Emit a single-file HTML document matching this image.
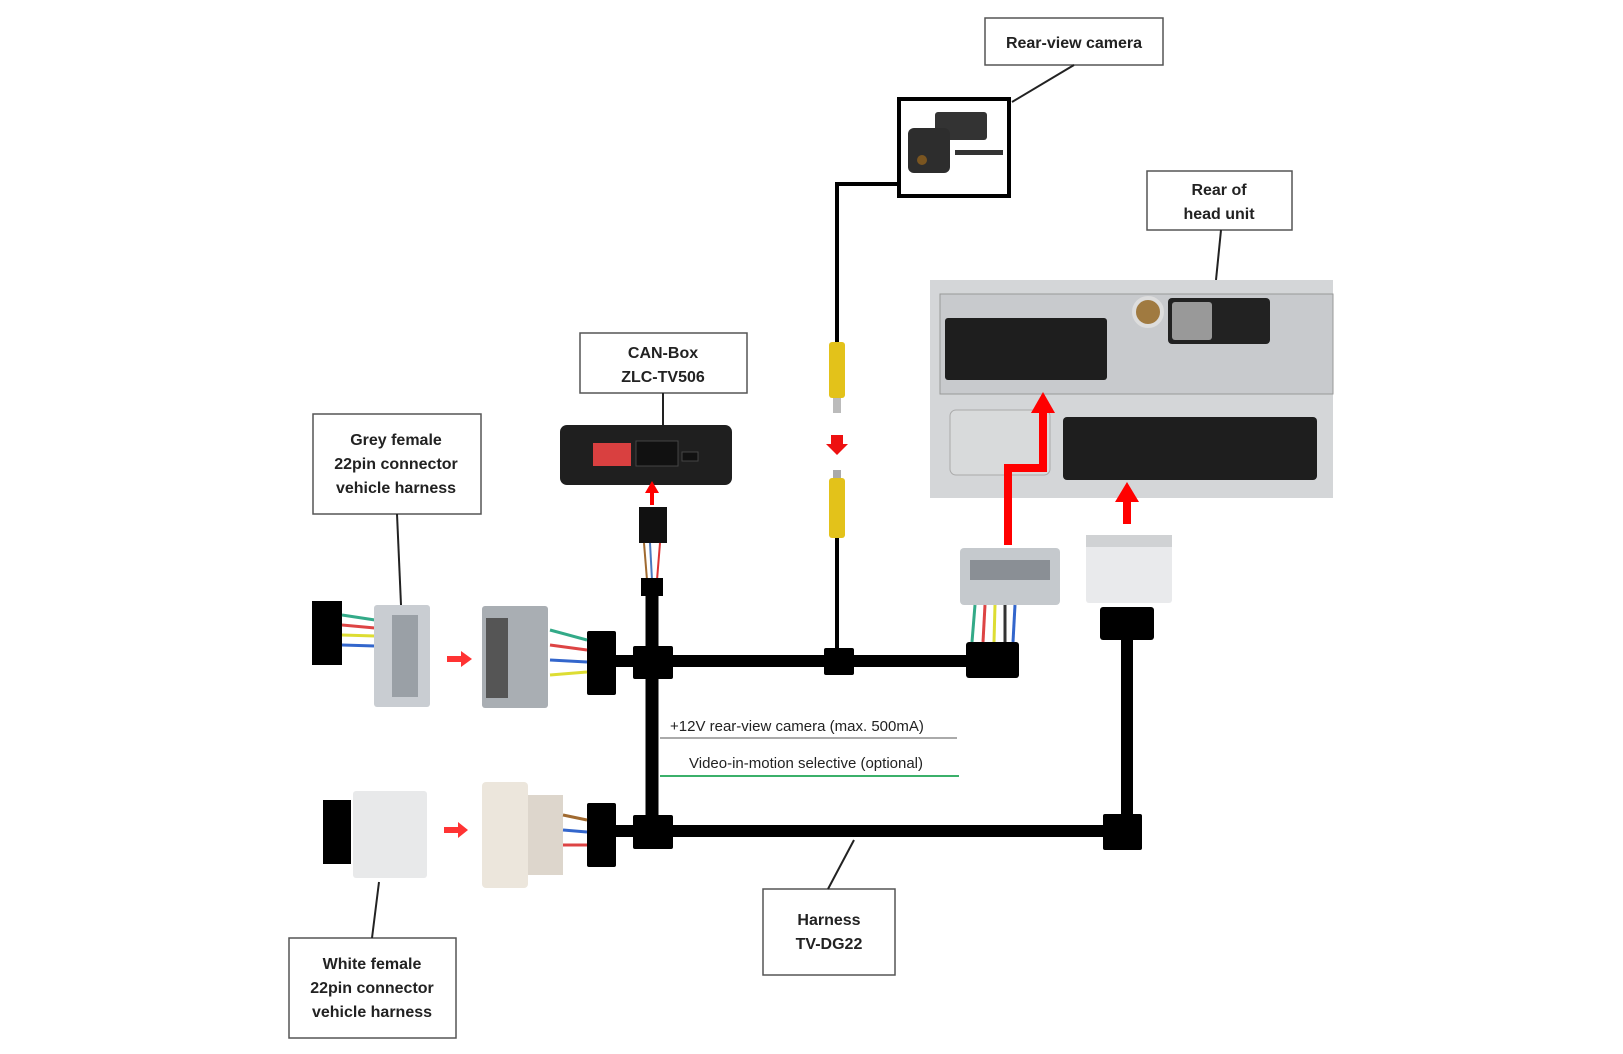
<!DOCTYPE html>
<html><head><meta charset="utf-8"><style>
html,body{margin:0;padding:0;background:#fff;}
svg{display:block;}
text{font-family:"Liberation Sans",sans-serif;}
.lb{font-weight:bold;font-size:16px;fill:#222;text-anchor:middle;}
.box{fill:#fff;stroke:#555;stroke-width:1.5;}
</style></head><body>
<svg width="1623" height="1054" viewBox="0 0 1623 1054" xmlns="http://www.w3.org/2000/svg">
<!-- labels -->
<rect class="box" x="985" y="18" width="178" height="47"/>
<text class="lb" x="1074" y="48">Rear-view camera</text>
<line x1="1074" y1="65" x2="1012" y2="102" stroke="#222" stroke-width="2"/>

<rect class="box" x="1147" y="171" width="145" height="59"/>
<text class="lb" x="1219" y="195">Rear of</text>
<text class="lb" x="1219" y="219">head unit</text>
<line x1="1221" y1="230" x2="1216" y2="280" stroke="#222" stroke-width="2"/>

<rect class="box" x="580" y="333" width="167" height="60"/>
<text class="lb" x="663" y="358">CAN-Box</text>
<text class="lb" x="663" y="382">ZLC-TV506</text>
<line x1="663" y1="393" x2="663" y2="425" stroke="#222" stroke-width="2"/>

<rect class="box" x="313" y="414" width="168" height="100"/>
<text class="lb" x="396" y="445">Grey female</text>
<text class="lb" x="396" y="469">22pin connector</text>
<text class="lb" x="396" y="493">vehicle harness</text>
<line x1="397" y1="514" x2="401" y2="605" stroke="#222" stroke-width="2"/>

<rect class="box" x="289" y="938" width="167" height="100"/>
<text class="lb" x="372" y="969">White female</text>
<text class="lb" x="372" y="993">22pin connector</text>
<text class="lb" x="372" y="1017">vehicle harness</text>
<line x1="372" y1="938" x2="379" y2="882" stroke="#222" stroke-width="2"/>

<rect class="box" x="763" y="889" width="132" height="86"/>
<text class="lb" x="829" y="925">Harness</text>
<text class="lb" x="829" y="949">TV-DG22</text>
<line x1="828" y1="889" x2="854" y2="840" stroke="#222" stroke-width="2"/>

<!-- camera -->
<rect x="899" y="99" width="110" height="97" fill="#fff" stroke="#000" stroke-width="4"/>
<rect x="935" y="112" width="52" height="28" fill="#333" rx="3"/>
<rect x="908" y="128" width="42" height="45" fill="#2d2d2d" rx="6"/>
<circle cx="922" cy="160" r="5" fill="#7a5520"/>
<rect x="955" y="150" width="48" height="5" fill="#333"/>
<polyline points="897,184 837,184 837,345" fill="none" stroke="#000" stroke-width="4"/>
<!-- RCA -->
<rect x="829" y="342" width="16" height="56" fill="#e3c21a" rx="3"/>
<rect x="833" y="398" width="8" height="15" fill="#bbb"/>
<polygon points="831,435 843,435 843,444 848,444 837,455 826,444 831,444" fill="#e11"/>
<rect x="833" y="470" width="8" height="10" fill="#aaa"/>
<rect x="829" y="478" width="16" height="60" fill="#e3c21a" rx="3"/>
<line x1="837" y1="538" x2="837" y2="655" stroke="#000" stroke-width="4"/>

<!-- head unit -->
<rect x="930" y="280" width="403" height="218" fill="#d4d6d8"/>
<rect x="940" y="294" width="393" height="100" fill="#c8cacd" stroke="#999"/>
<rect x="945" y="318" width="162" height="62" fill="#1e1e1e" rx="3"/>
<circle cx="1148" cy="312" r="14" fill="#a07a40" stroke="#ddd" stroke-width="4"/>
<rect x="1168" y="298" width="102" height="46" fill="#222" rx="4"/>
<rect x="1172" y="302" width="40" height="38" fill="#999" rx="3"/>
<rect x="1063" y="417" width="254" height="63" fill="#1e1e1e" rx="4"/>
<rect x="950" y="410" width="100" height="65" fill="#d8dadb" stroke="#aaa" rx="6"/>
<!-- red arrows -->
<polyline points="1008,545 1008,468 1043,468 1043,410" fill="none" stroke="#f00" stroke-width="8"/>
<polygon points="1031,413 1055,413 1043,392" fill="#f00"/>
<line x1="1127" y1="524" x2="1127" y2="498" stroke="#f00" stroke-width="8"/>
<polygon points="1115,502 1139,502 1127,482" fill="#f00"/>

<!-- CAN box -->
<rect x="560" y="425" width="172" height="60" fill="#1f1f1f" rx="7"/>
<rect x="593" y="443" width="38" height="23" fill="#d94040"/>
<rect x="636" y="441" width="42" height="25" fill="#111" stroke="#444"/>
<rect x="682" y="452" width="16" height="9" fill="#111" stroke="#444"/>
<line x1="652" y1="505" x2="652" y2="490" stroke="#f00" stroke-width="4"/>
<polygon points="645,493 659,493 652,481" fill="#f00"/>
<rect x="639" y="507" width="28" height="36" fill="#111"/>
<line x1="644" y1="543" x2="647" y2="580" stroke="#a06a30" stroke-width="2"/>
<line x1="650" y1="543" x2="652" y2="580" stroke="#4a78c0" stroke-width="2"/>
<line x1="660" y1="543" x2="657" y2="580" stroke="#d33" stroke-width="2"/>
<rect x="641" y="578" width="22" height="18" fill="#000"/>

<!-- harness lines -->
<line x1="652" y1="596" x2="652" y2="830" stroke="#000" stroke-width="13"/>
<line x1="605" y1="661" x2="990" y2="661" stroke="#000" stroke-width="12"/>
<line x1="605" y1="831" x2="1127" y2="831" stroke="#000" stroke-width="12"/>
<line x1="1127" y1="630" x2="1127" y2="831" stroke="#000" stroke-width="12"/>
<rect x="633" y="646" width="40" height="33" fill="#000" rx="2"/>
<rect x="824" y="648" width="30" height="27" fill="#000" rx="2"/>
<rect x="633" y="815" width="40" height="34" fill="#000" rx="2"/>
<rect x="1103" y="814" width="39" height="36" fill="#000" rx="2"/>
<rect x="587" y="631" width="29" height="64" fill="#000" rx="2"/>
<rect x="587" y="803" width="29" height="64" fill="#000" rx="2"/>
<rect x="966" y="642" width="53" height="36" fill="#000" rx="3"/>
<rect x="1100" y="607" width="54" height="33" fill="#000" rx="3"/>

<!-- connectors near head unit -->
<rect x="960" y="548" width="100" height="57" fill="#c5c9cd" rx="4"/>
<rect x="970" y="560" width="80" height="20" fill="#8a8f95"/>
<g stroke-width="3"><line x1="975" y1="605" x2="972" y2="642" stroke="#3a8"/><line x1="985" y1="605" x2="983" y2="642" stroke="#d44"/><line x1="995" y1="605" x2="994" y2="642" stroke="#dd3"/><line x1="1005" y1="605" x2="1005" y2="642" stroke="#333"/><line x1="1015" y1="605" x2="1013" y2="642" stroke="#36c"/></g>
<rect x="1086" y="535" width="86" height="68" fill="#e9eaec" rx="3"/>
<rect x="1086" y="535" width="86" height="12" fill="#d0d2d4"/>

<!-- grey female -->
<rect x="312" y="601" width="30" height="64" fill="#000"/>
<g stroke-width="3"><line x1="342" y1="615" x2="375" y2="620" stroke="#3a8"/><line x1="342" y1="625" x2="375" y2="628" stroke="#d44"/><line x1="342" y1="635" x2="375" y2="636" stroke="#dd3"/><line x1="342" y1="645" x2="375" y2="646" stroke="#36c"/></g>
<rect x="374" y="605" width="56" height="102" fill="#c9cdd2" rx="3"/>
<rect x="392" y="615" width="26" height="82" fill="#9aa0a6"/>
<polygon points="447,656 461,656 461,651 472,659 461,667 461,662 447,662" fill="#f33"/>
<!-- grey male -->
<rect x="482" y="606" width="66" height="102" fill="#a9aeb3" rx="3"/>
<rect x="486" y="618" width="22" height="80" fill="#555"/>
<g stroke-width="3"><line x1="550" y1="630" x2="587" y2="640" stroke="#3a8"/><line x1="550" y1="645" x2="587" y2="650" stroke="#d44"/><line x1="550" y1="660" x2="587" y2="662" stroke="#36c"/><line x1="550" y1="675" x2="587" y2="672" stroke="#dd3"/></g>

<!-- white female -->
<rect x="323" y="800" width="28" height="64" fill="#000"/>
<rect x="353" y="791" width="74" height="87" fill="#e8e9ea" rx="3"/>
<polygon points="444,827 458,827 458,822 468,830 458,838 458,833 444,833" fill="#f33"/>
<!-- white male -->
<rect x="482" y="782" width="46" height="106" fill="#ece6dc" rx="4"/>
<rect x="528" y="795" width="35" height="80" fill="#ddd6cc"/>
<g stroke-width="3"><line x1="563" y1="815" x2="587" y2="820" stroke="#a06a30"/><line x1="563" y1="830" x2="587" y2="832" stroke="#36c"/><line x1="563" y1="845" x2="587" y2="845" stroke="#d44"/></g>

<!-- wire labels -->
<text x="670" y="731" font-size="15" fill="#222">+12V rear-view camera  (max. 500mA)</text>
<line x1="660" y1="738" x2="957" y2="738" stroke="#aaa" stroke-width="2"/>
<text x="689" y="768" font-size="15" fill="#222">Video-in-motion  selective (optional)</text>
<line x1="660" y1="776" x2="959" y2="776" stroke="#3bb06a" stroke-width="2"/>
</svg>
</body></html>
